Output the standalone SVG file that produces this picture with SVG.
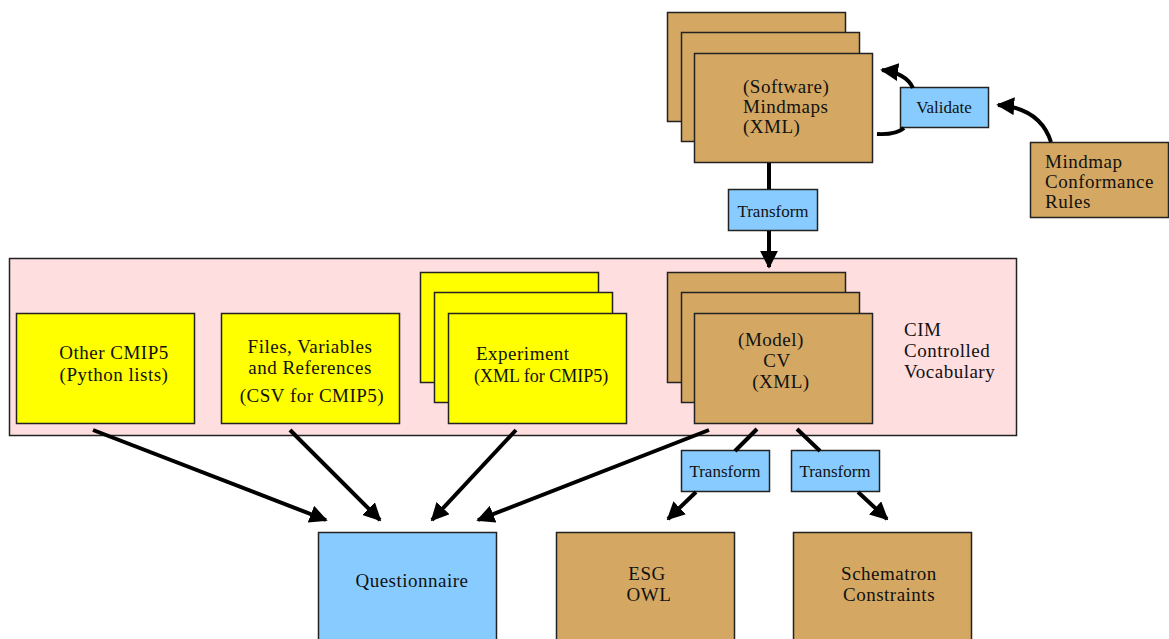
<svg xmlns="http://www.w3.org/2000/svg" width="1169" height="639" viewBox="0 0 1169 639">
<style>
  .tan{fill:#D4A862;stroke:#222;stroke-width:1.5}
  .blue{fill:#88CCFF;stroke:#222;stroke-width:1.5}
  .yel{fill:#FFFF00;stroke:#222;stroke-width:1.5}
  .pink{fill:#FFDEE0;stroke:#222;stroke-width:1.5}
  text{font-family:"Liberation Serif","DejaVu Serif",serif;fill:#111}
  .big{font-size:19px;letter-spacing:0.5px}
  .sm{font-size:17px}
  .c{text-anchor:middle}
  .ln{stroke:#000;stroke-width:4;fill:none}
</style>
<defs>
  <marker id="ah" viewBox="0 0 10 10" refX="9" refY="5" markerUnits="userSpaceOnUse" markerWidth="18" markerHeight="18" orient="auto">
    <path d="M0,0 L10,5 L0,10 z" fill="#000"/>
  </marker>
</defs>
<rect width="1169" height="639" fill="#fff"/>

<g id="cim-container">
  <rect class="pink" x="9.5" y="258.5" width="1007" height="177"/>
  <text class="big" x="904" y="336">CIM</text>
  <text class="big" x="904" y="357">Controlled</text>
  <text class="big" x="904" y="378">Vocabulary</text>
</g>

<g id="mindmaps">
  <rect class="tan" x="667.5" y="12.5" width="178" height="109"/>
  <rect class="tan" x="681.5" y="32.5" width="178" height="109"/>
  <rect class="tan" x="694.5" y="53.5" width="178" height="109"/>
  <text class="big" x="743" y="93">(Software)</text>
  <text class="big" x="743" y="113">Mindmaps</text>
  <text class="big" x="743" y="133">(XML)</text>
</g>

<g id="validate">
  <rect class="blue" x="900.5" y="87.5" width="88" height="40"/>
  <text class="sm c" x="944" y="113">Validate</text>
</g>

<g id="conformance">
  <rect class="tan" x="1030.5" y="142.5" width="138" height="75"/>
  <text class="big" x="1045" y="168">Mindmap</text>
  <text class="big" x="1045" y="188">Conformance</text>
  <text class="big" x="1045" y="208">Rules</text>
</g>

<g id="transform-top">
  <rect class="blue" x="728.5" y="189.5" width="89" height="41"/>
  <text class="sm c" x="773" y="217">Transform</text>
</g>

<g id="other-cmip5">
  <rect class="yel" x="16.5" y="313.5" width="178" height="110"/>
  <text class="big c" x="114" y="359">Other CMIP5</text>
  <text class="big c" x="114" y="381">(Python lists)</text>
</g>

<g id="files">
  <rect class="yel" x="221.5" y="313.5" width="178" height="110"/>
  <text class="big c" x="310" y="353">Files, Variables</text>
  <text class="big c" x="310" y="374">and References</text>
  <text class="big c" x="312" y="402">(CSV for CMIP5)</text>
</g>

<g id="experiment">
  <rect class="yel" x="420.5" y="272.5" width="178" height="110"/>
  <rect class="yel" x="434.5" y="292.5" width="178" height="110"/>
  <rect class="yel" x="448.5" y="313.5" width="178" height="110"/>
  <text class="big" x="476" y="360">Experiment</text>
  <text style="font-size:18px" x="474" y="382">(XML for CMIP5)</text>
</g>

<g id="cv">
  <rect class="tan" x="667.5" y="272.5" width="178" height="110"/>
  <rect class="tan" x="681.5" y="292.5" width="178" height="110"/>
  <rect class="tan" x="694.5" y="313.5" width="178" height="110"/>
  <text class="big c" x="771" y="346">(Model)</text>
  <text class="big c" x="777" y="367">CV</text>
  <text class="big c" x="781" y="388">(XML)</text>
</g>

<g id="transform-owl">
  <rect class="blue" x="681.5" y="450.5" width="88" height="41"/>
  <text class="sm c" x="725" y="477">Transform</text>
</g>

<g id="transform-sch">
  <rect class="blue" x="791.5" y="450.5" width="88" height="41"/>
  <text class="sm c" x="835" y="477">Transform</text>
</g>

<g id="questionnaire">
  <rect class="blue" x="318.5" y="532.5" width="178" height="110"/>
  <text class="big c" x="412" y="587">Questionnaire</text>
</g>

<g id="esg-owl">
  <rect class="tan" x="556.5" y="532.5" width="178" height="110"/>
  <text class="big c" x="647" y="580">ESG</text>
  <text class="big c" x="649" y="601">OWL</text>
</g>

<g id="schematron">
  <rect class="tan" x="793.5" y="532.5" width="178" height="110"/>
  <text class="big c" x="889" y="580">Schematron</text>
  <text class="big c" x="889" y="601">Constraints</text>
</g>

<g id="connectors">
  <line class="ln" x1="769" y1="163" x2="769" y2="189"/>
  <line class="ln" x1="769" y1="231" x2="769" y2="267" marker-end="url(#ah)"/>
  <path class="ln" d="M913,88 Q906,73 882,70" marker-end="url(#ah)"/>
  <path class="ln" d="M904,128 Q896,135 877,134"/>
  <path class="ln" d="M1051,142 Q1040,108 998,105" marker-end="url(#ah)"/>
  <line class="ln" x1="93" y1="430" x2="326" y2="520" marker-end="url(#ah)"/>
  <line class="ln" x1="290" y1="430" x2="380" y2="520" marker-end="url(#ah)"/>
  <line class="ln" x1="516" y1="430" x2="432" y2="520" marker-end="url(#ah)"/>
  <line class="ln" x1="709" y1="430" x2="478" y2="520" marker-end="url(#ah)"/>
  <line class="ln" x1="757" y1="429" x2="735" y2="451"/>
  <line class="ln" x1="696" y1="492" x2="668" y2="519" marker-end="url(#ah)"/>
  <line class="ln" x1="797" y1="429" x2="820" y2="451"/>
  <line class="ln" x1="858" y1="492" x2="887" y2="519" marker-end="url(#ah)"/>
</g>
</svg>
